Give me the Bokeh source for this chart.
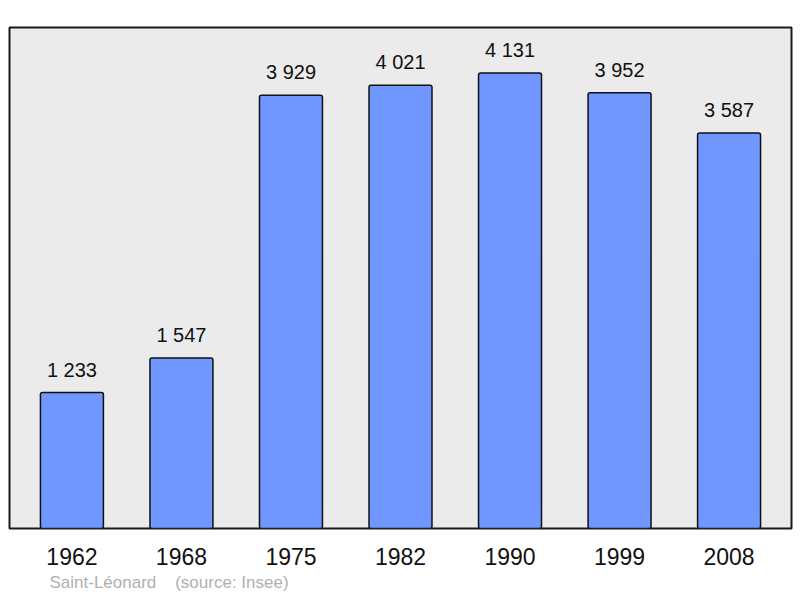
from bokeh.plotting import figure
from bokeh.models import ColumnDataSource, FactorRange, Range1d, Title
from bokeh.core.properties import value
from bokeh.embed import file_html
from bokeh.resources import INLINE

years = ["1962", "1968", "1975", "1982", "1990", "1999", "2008"]
population = [1233, 1547, 3929, 4021, 4131, 3952, 3587]
labels = [f"{v:,}".replace(",", " ") for v in population]
source_note = "Saint-Léonard\u00a0\u00a0\u00a0\u00a0(source: Insee)"

FONT = "Liberation Sans"

src = ColumnDataSource(dict(year=years, pop=population, label=labels))

p = figure(
    x_range=FactorRange(*years, range_padding=0.07, range_padding_units="absolute"),
    y_range=Range1d(0, max(population) * 1.1),
    frame_width=782, frame_height=501,
    output_backend="svg", toolbar_location=None,
    min_border_left=9, min_border_right=9, min_border_top=27, min_border_bottom=70,
)

p.vbar(x="year", top="pop", width=0.575, source=src,
       fill_color="#7096ff", line_color="#111111", line_width=1.5,
       border_radius=2)

p.text(x="year", y="pop", text="label", source=src,
       text_align="center", text_baseline="alphabetic", y_offset=-23,
       text_font=value(FONT), text_font_size="20px", text_color="#111111")

p.background_fill_color = "#ebebeb"
p.border_fill_color = "white"
p.outline_line_color = "#1a1a1a"
p.outline_line_width = 2
p.xgrid.visible = False
p.ygrid.visible = False
p.yaxis.visible = False

ax = p.xaxis[0]
ax.axis_line_color = None
ax.major_tick_line_color = None
ax.minor_tick_line_color = None
ax.major_tick_out = 0
ax.major_label_standoff = 19
ax.major_label_text_font = FONT
ax.major_label_text_font_size = "23px"
ax.major_label_text_color = "#111111"

note = Title(text=source_note, align="left", offset=40, standoff=7,
             text_font=FONT, text_font_size="17px", text_font_style="normal",
             text_color="#b0b0b0")
p.add_layout(note, "below")

open("out.html", "w").write(file_html(p, INLINE))
